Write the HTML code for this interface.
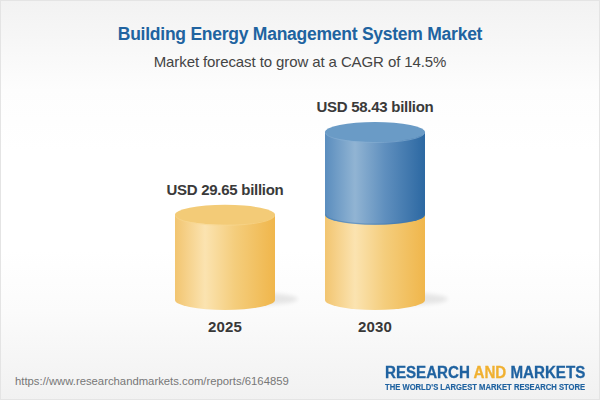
<!DOCTYPE html>
<html>
<head>
<meta charset="utf-8">
<style>
html,body{margin:0;padding:0;}
body{width:600px;height:400px;overflow:hidden;position:relative;font-family:"Liberation Sans",sans-serif;}
#bg{position:absolute;left:0;top:0;width:598px;height:398px;border:1px solid #e4e4e4;
 background:linear-gradient(to bottom,#f2f2f2 0px,#fdfdfd 90px,#ffffff 150px,#ffffff 250px,#fbfbfb 310px,#f1f1f1 400px);}
.t{position:absolute;white-space:nowrap;line-height:1;}
#title{left:0;width:600px;text-align:center;top:25.7px;font-size:17.5px;letter-spacing:-0.25px;font-weight:bold;color:#2063a0;}
#sub{left:0;width:600px;text-align:center;top:54px;font-size:15px;letter-spacing:-0.1px;color:#444;}
.lbl{font-size:15px;letter-spacing:-0.28px;font-weight:bold;color:#3a3a3a;text-align:center;width:200px;}
.yr{font-size:15px;letter-spacing:0.2px;font-weight:bold;color:#383838;text-align:center;width:100px;}
#url{left:15px;top:376px;font-size:11.3px;color:#777;}
#logo1{left:385px;top:365px;-webkit-text-stroke:0.3px #1f62a0;font-size:16px;transform-origin:0 0;transform:scaleX(0.945);font-weight:bold;color:#1f62a0;}
#logo1 span{color:#f0b030;-webkit-text-stroke:0.3px #f0b030;}
#logo2{left:385px;top:383px;-webkit-text-stroke:0.15px #1f62a0;font-size:8.5px;transform-origin:0 0;transform:scaleX(0.9);font-weight:bold;color:#1f62a0;}
svg{position:absolute;left:0;top:0;}
</style>
</head>
<body>
<div id="bg"></div>
<svg width="600" height="400" viewBox="0 0 600 400">
<defs>
 <linearGradient id="gy" x1="0" x2="1" y1="0" y2="0">
  <stop offset="0" stop-color="#f2c570"/>
  <stop offset="0.3" stop-color="#fbe3b0"/>
  <stop offset="0.6" stop-color="#f4cd7c"/>
  <stop offset="1" stop-color="#f0b64b"/>
 </linearGradient>
 <linearGradient id="gb" x1="0" x2="1" y1="0" y2="0">
  <stop offset="0" stop-color="#5a8dbe"/>
  <stop offset="0.3" stop-color="#91b4d3"/>
  <stop offset="0.6" stop-color="#5f8fbe"/>
  <stop offset="1" stop-color="#2c68a2"/>
 </linearGradient>
 <filter id="blur" x="-50%" y="-50%" width="200%" height="200%"><feGaussianBlur stdDeviation="2.2"/></filter>
</defs>
<!-- shadows -->
<ellipse cx="250" cy="299" rx="48" ry="6.5" fill="#000" opacity="0.085" filter="url(#blur)"/>
<ellipse cx="400" cy="299" rx="48" ry="6.5" fill="#000" opacity="0.085" filter="url(#blur)"/>
<!-- cylinder 1 -->
<path d="M175 214.8 V300 A50 10 0 0 0 275 300 V214.8 Z" fill="url(#gy)"/>
<ellipse cx="225" cy="214.8" rx="50" ry="10" fill="#f3cb77"/>
<path d="M175.5 215.5 A49.5 9.8 0 0 0 274.5 215.5" fill="none" stroke="#f7d891" stroke-width="0.8" opacity="0.8"/>
<!-- cylinder 2 -->
<path d="M325 214 V300 A50 10 0 0 0 425 300 V214 Z" fill="url(#gy)"/>
<path d="M325 132 V214.8 A50 10 0 0 0 425 214.8 V132 Z" fill="url(#gb)"/>
<path d="M325.6 214.6 A49.4 9.6 0 0 0 424.4 214.6" fill="none" stroke="#3f78b0" stroke-width="1.2" opacity="0.45"/>
<ellipse cx="375" cy="132" rx="50" ry="10" fill="#6a9bc6"/>
<path d="M325.5 132.7 A49.5 9.8 0 0 0 424.5 132.7" fill="none" stroke="#86afd3" stroke-width="0.8" opacity="0.8"/>
</svg>
<div class="t" id="title">Building Energy Management System Market</div>
<div class="t" id="sub">Market forecast to grow at a CAGR of 14.5%</div>
<div class="t lbl" id="l1" style="left:125px;top:182.3px;">USD 29.65 billion</div>
<div class="t lbl" id="l2" style="left:275px;top:99.3px;">USD 58.43 billion</div>
<div class="t yr" id="y1" style="left:175px;top:319px;">2025</div>
<div class="t yr" id="y2" style="left:325px;top:319px;">2030</div>
<div class="t" id="url">https://www.researchandmarkets.com/reports/6164859</div>
<div class="t" id="logo1">RESEARCH <span>AND</span> MARKETS</div>
<div class="t" id="logo2">THE WORLD'S LARGEST MARKET RESEARCH STORE</div>
</body>
</html>
